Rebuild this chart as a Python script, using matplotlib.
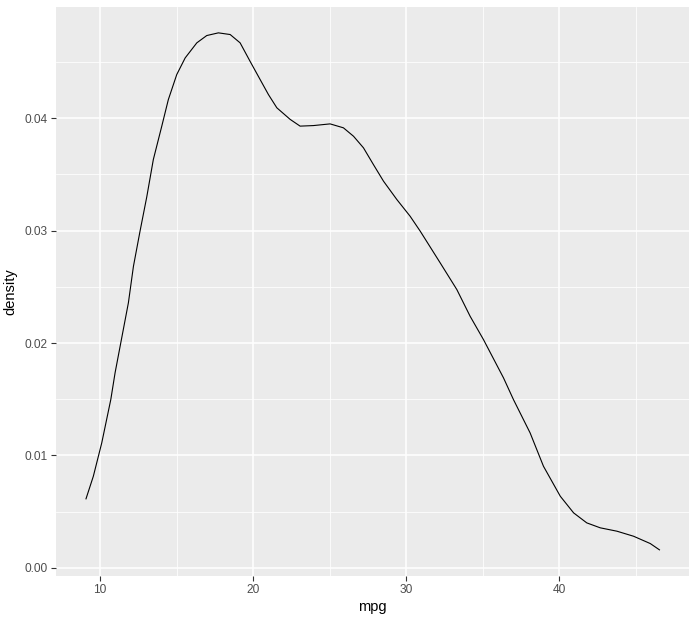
import matplotlib
matplotlib.use("Agg")
import matplotlib.pyplot as plt
import numpy as np

# density curve of mpg
mpg = [9.08, 9.56, 10.11, 10.70, 10.98, 11.35, 11.85, 12.18, 12.61, 13.05,
       13.48, 14.03, 14.46, 15.01, 15.56, 16.32, 16.97, 17.73, 18.50, 19.15,
       19.80, 20.46, 21.00, 21.55, 22.42, 23.07, 23.94, 25.03, 25.90, 26.56,
       27.21, 27.86, 28.52, 29.39, 30.26, 30.92, 32.22, 33.31, 34.18, 35.05,
       36.36, 37.01, 38.10, 38.97, 40.07, 40.94, 41.80, 42.68, 43.77, 44.86,
       45.95, 46.55]
density = [0.00614, 0.00815, 0.01112, 0.01497, 0.01735, 0.02000, 0.02358, 0.02683,
           0.02995, 0.03300, 0.03633, 0.03929, 0.04166, 0.04389, 0.04537, 0.04671,
           0.04736, 0.04760, 0.04745, 0.04671, 0.04507, 0.04344, 0.04211, 0.04093,
           0.03990, 0.03930, 0.03935, 0.03950, 0.03915, 0.03840, 0.03737, 0.03588,
           0.03440, 0.03277, 0.03128, 0.02995, 0.02714, 0.02476, 0.02238, 0.02031,
           0.01690, 0.01497, 0.01200, 0.00904, 0.00637, 0.00489, 0.00400, 0.00356,
           0.00326, 0.00281, 0.00216, 0.00160]

xticks = [10, 20, 30, 40]
yticks = [0.00, 0.01, 0.02, 0.03, 0.04]

plt.rcParams['font.family'] = ['Liberation Sans', 'DejaVu Sans']

fig = plt.figure(figsize=(6.97, 6.22), dpi=100)
ax = fig.add_axes([56 / 697, 1 - 575.7 / 622, (689 - 56) / 697, (575.7 - 7) / 622])
ax.set_facecolor('#EBEBEB')

# ggplot style limits: 5% padding on the data range
xmin, xmax = 9.0, 46.6
dx = (xmax - xmin) * 0.05
ax.set_xlim(xmin - dx, xmax + dx)
ymin, ymax = min(density), max(density)
dy = (ymax - ymin) * 0.05
ax.set_ylim(ymin - dy, ymax + dy)

ax.set_xticks(xticks)
ax.set_yticks(yticks)
ax.set_xticklabels([str(t) for t in xticks])
ax.set_yticklabels([f'{t:.2f}' for t in yticks])
ax.set_xticks([15, 25, 35, 45], minor=True)
ax.set_yticks([0.005, 0.015, 0.025, 0.035, 0.045], minor=True)

ax.grid(which='major', color='white', linewidth=1.1)
ax.grid(which='minor', color='white', linewidth=0.55)
ax.set_axisbelow(True)
for s in ax.spines.values():
    s.set_visible(False)

ax.tick_params(which='major', length=3.3, width=0.8, color='#333333',
               labelcolor='#4D4D4D', labelsize=8.6, pad=2.5)
ax.tick_params(which='minor', length=0)

ax.plot(mpg, density, color='black', linewidth=0.8)

ax.set_xlabel('mpg', fontsize=10.5, color='black', labelpad=3)
ax.set_ylabel('density', fontsize=10.5, color='black', labelpad=5)

fig.savefig('out.png', dpi=100)
